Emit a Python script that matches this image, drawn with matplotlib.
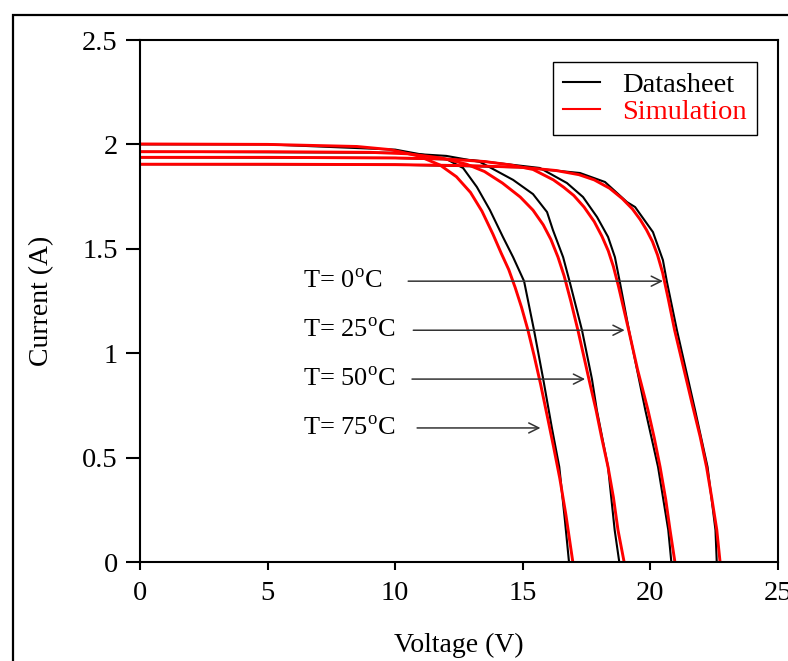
import matplotlib
matplotlib.use("Agg")
import matplotlib.pyplot as plt
from matplotlib.patches import Rectangle

plt.rcParams['font.family'] = ['Liberation Serif', 'DejaVu Serif']
plt.rcParams['mathtext.fontset'] = 'custom'
plt.rcParams['mathtext.rm'] = 'Liberation Serif'

# datasheet curves (black)
v_ds_0 = [0, 10, 15, 17.24, 18.22, 19.08, 19.4, 20.1, 20.49, 20.65, 21.04, 21.75, 22.24, 22.55, 22.6]
i_ds_0 = [1.905, 1.903, 1.89, 1.863, 1.82, 1.724, 1.70, 1.58, 1.446, 1.34, 1.11, 0.728, 0.455, 0.153, 0]
v_ds_25 = [0, 10, 13, 15.67, 16.73, 17.36, 17.91, 18.34, 18.61, 18.81, 19.16, 19.8, 20.3, 20.7, 20.82]
i_ds_25 = [1.938, 1.935, 1.925, 1.887, 1.815, 1.748, 1.652, 1.557, 1.46, 1.336, 1.11, 0.728, 0.455, 0.153, 0]
v_ds_50 = [0, 10, 12, 13.32, 14.62, 15.4, 15.95, 16.18, 16.58, 16.85, 17.32, 17.71, 17.9, 18.34, 18.6, 18.78]
i_ds_50 = [1.965, 1.96, 1.945, 1.916, 1.83, 1.762, 1.676, 1.59, 1.46, 1.336, 1.11, 0.876, 0.728, 0.455, 0.153, 0]
v_ds_75 = [0, 5, 10, 12, 12.66, 13.2, 13.71, 14.22, 14.62, 15.05, 15.44, 15.8, 16.14, 16.43, 16.65, 16.81]
i_ds_75 = [2.0, 2.0, 1.975, 1.93, 1.887, 1.796, 1.686, 1.557, 1.46, 1.345, 1.11, 0.876, 0.642, 0.455, 0.2, 0]

# simulation curves (red)
v_sim_0 = [0, 5, 10, 13, 15, 16.3, 17.2, 17.8, 18.4, 18.9, 19.3, 19.6, 19.85, 20.08, 20.28, 20.48,
           20.7, 20.95, 21.3, 21.65, 21.95, 22.2, 22.4, 22.6, 22.73]
i_sim_0 = [1.905, 1.905, 1.903, 1.898, 1.89, 1.875, 1.855, 1.83, 1.79, 1.74, 1.69, 1.64, 1.59, 1.535,
           1.47, 1.385, 1.26, 1.11, 0.93, 0.75, 0.6, 0.455, 0.31, 0.155, 0]
v_sim_25 = [0, 5, 10, 12, 13.5, 14.5, 15.4, 16.2, 16.6, 17.0, 17.4, 17.8, 18.1, 18.35, 18.55, 18.75,
            18.95, 19.15, 19.5, 19.9, 20.15, 20.38, 20.6, 20.77, 20.96]
i_sim_25 = [1.938, 1.938, 1.935, 1.93, 1.918, 1.902, 1.88, 1.83, 1.795, 1.755, 1.70, 1.63, 1.56, 1.49,
            1.415, 1.32, 1.215, 1.11, 0.92, 0.73, 0.595, 0.455, 0.3, 0.153, 0]
v_sim_50 = [0, 5, 9, 10.5, 11.8, 12.8, 13.5, 14.2, 14.9, 15.4, 15.8, 16.1, 16.38, 16.62, 16.88, 17.16,
            17.4, 17.62, 17.87, 18.1, 18.34, 18.55, 18.73, 18.97]
i_sim_50 = [1.965, 1.965, 1.962, 1.955, 1.935, 1.905, 1.87, 1.815, 1.748, 1.685, 1.615, 1.545, 1.46,
            1.37, 1.25, 1.11, 0.98, 0.86, 0.728, 0.59, 0.455, 0.31, 0.153, 0]
v_sim_75 = [0, 5, 8.5, 9.8, 10.9, 11.76, 12.4, 12.95, 13.4, 13.83, 14.15, 14.45, 14.7, 14.95, 15.2,
            15.45, 15.7, 15.99, 16.2, 16.45, 16.69, 16.96]
i_sim_75 = [2.002, 2.0, 1.99, 1.975, 1.945, 1.901, 1.845, 1.77, 1.68, 1.57, 1.48, 1.4, 1.315, 1.22,
            1.111, 0.985, 0.85, 0.68, 0.555, 0.4, 0.225, 0]

labels = ['T= 0$^\\mathrm{o}$C', 'T= 25$^\\mathrm{o}$C', 'T= 50$^\\mathrm{o}$C', 'T= 75$^\\mathrm{o}$C']
label_y = [1.345, 1.11, 0.876, 0.642]
arrow_from = [10.4, 10.6, 10.55, 10.75]
arrow_to = [20.6, 19.1, 17.55, 15.8]

xticks = [0, 5, 10, 15, 20, 25]
yticks = [0, 0.5, 1, 1.5, 2, 2.5]
ytick_labels = ['0', '0.5', '1', '1.5', '2', '2.5']

fig = plt.figure(figsize=(7.88, 6.61), dpi=100)
ax = fig.add_axes([140/788, 1-562/661, 638/788, 522/661])

for v, i in [(v_ds_0, i_ds_0), (v_ds_25, i_ds_25), (v_ds_50, i_ds_50), (v_ds_75, i_ds_75)]:
    ax.plot(v, i, color='black', lw=1.5)
for v, i in [(v_sim_0, i_sim_0), (v_sim_25, i_sim_25), (v_sim_50, i_sim_50), (v_sim_75, i_sim_75)]:
    ax.plot(v, i, color='red', lw=2.1, solid_joinstyle='round')

# legend handles
ax.plot([], [], color='black', lw=1.5, label='Datasheet')
ax.plot([], [], color='red', lw=1.5, label='Simulation')
h, l = ax.get_legend_handles_labels()
leg = ax.legend(h[-2:], l[-2:], loc='upper right', bbox_to_anchor=(0.967, 0.958),
                borderaxespad=0, fontsize=20.5, fancybox=False, framealpha=1,
                edgecolor='black', handlelength=1.3, handletextpad=0.8,
                labelspacing=0.05, borderpad=0.35, labelcolor=['black', 'red'])
leg.get_frame().set_linewidth(1.0)

for lab, y, x0, x1 in zip(labels, label_y, arrow_from, arrow_to):
    ax.text(6.4, y, lab, fontsize=19, va='center', ha='left')
    ax.annotate('', xy=(x1, y), xytext=(x0, y),
                arrowprops=dict(arrowstyle='->', color='#333333', lw=1.1,
                                mutation_scale=18))

ax.set_xlim(0, 25)
ax.set_ylim(0, 2.5)
ax.set_xticks(xticks)
ax.set_yticks(yticks)
ax.set_yticklabels(ytick_labels)
ax.tick_params(axis='y', direction='out', length=10, width=1.5, labelsize=20.5, pad=6)
ax.tick_params(axis='x', direction='out', length=6, width=1.5, labelsize=20.5, pad=8)
for s in ax.spines.values():
    s.set_linewidth(1.5)

ax.set_xlabel('Voltage (V)', fontsize=20)
ax.set_ylabel('Current (A)', fontsize=20)
ax.xaxis.set_label_coords(0.5, -0.16)
ax.xaxis.label.set_va('center')
ax.yaxis.set_label_coords(-0.155, 0.5)
ax.yaxis.label.set_va('center')

# outer frame around the figure
fig.patches.append(Rectangle((13/788, -0.1), 1.0, 1 - 15/661 + 0.1, transform=fig.transFigure,
                             fill=False, edgecolor='black', lw=1.6, clip_on=False))

fig.savefig('out.png', dpi=100)
